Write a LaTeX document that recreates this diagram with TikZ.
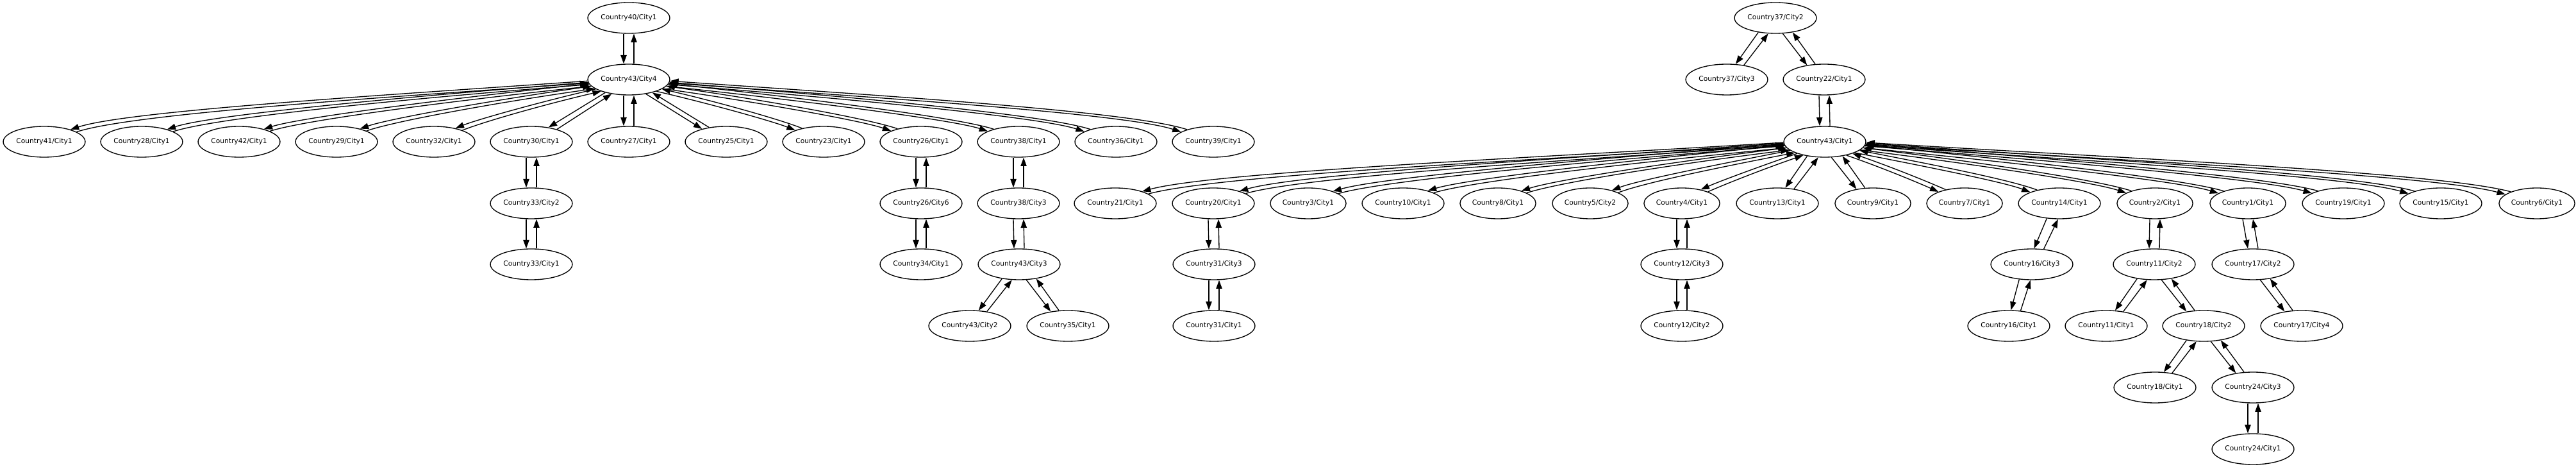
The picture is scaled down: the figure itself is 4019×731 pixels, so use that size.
\documentclass[tikz,border=0pt]{standalone}
\usepackage{fontspec}
\setmainfont{DejaVu Sans}
\usetikzlibrary{arrows.meta,shapes.geometric}
\tikzset{
  city/.style={ellipse, draw, line width=1pt, inner xsep=1.2pt, inner ysep=0pt,
    minimum height=36pt, font=\fontsize{8pt}{9.6pt}\selectfont},
  edge/.style={line width=1pt, -{Triangle[length=10pt,width=7pt]}},
}
% curved pair, left side: P C Pd Pu Cd Cu out in childlooseness
\newcommand\pairL[9]{%
  \draw[edge] (#1.#3) to[out=#7,in=#8,in looseness=#9] (#2.#5);
  \draw[edge] (#2.#6) to[out=#8,in=#7,out looseness=#9] (#1.#4);}
% curved pair, mirrored to the right side
\newcommand\pairR[9]{%
  \pgfmathtruncatemacro\qPd{mod(540-#4,360)}%
  \pgfmathtruncatemacro\qPu{mod(540-#3,360)}%
  \pgfmathtruncatemacro\qCd{mod(540-#6,360)}%
  \pgfmathtruncatemacro\qCu{mod(540-#5,360)}%
  \pgfmathsetmacro\qo{180-#7}%
  \pgfmathsetmacro\qi{180-#8}%
  \pairL{#1}{#2}{\qPd}{\qPu}{\qCd}{\qCu}{\qo}{\qi}{#9}}
% straight pair, left side
\newcommand\pairS[6]{%
  \draw[edge] (#1.#3) -- (#2.#5);
  \draw[edge] (#2.#6) -- (#1.#4);}
% straight pair, mirrored to the right side
\newcommand\pairSR[6]{%
  \pgfmathtruncatemacro\qPd{mod(540-#4,360)}%
  \pgfmathtruncatemacro\qPu{mod(540-#3,360)}%
  \pgfmathtruncatemacro\qCd{mod(540-#6,360)}%
  \pgfmathtruncatemacro\qCu{mod(540-#5,360)}%
  \pairS{#1}{#2}{\qPd}{\qPu}{\qCd}{\qCu}}
% vertical pair
\newcommand\pairV[2]{%
  \draw[edge] ([xshift=-6pt]#1.south) -- ([xshift=-6pt]#2.north);
  \draw[edge] ([xshift=6pt]#2.north) -- ([xshift=6pt]#1.south);}
\begin{document}
\begin{tikzpicture}[x=0.75pt,y=0.75pt]
\useasboundingbox (0,0) rectangle (4019,731);
% ---------- left tree ----------
\node[city] (a40)  at (981,703) {Country40/City1};
\node[city] (a434) at (981,607) {Country43/City4};
\node[city] (c41) at (69,510)  {Country41/City1};
\node[city] (c28) at (221,510) {Country28/City1};
\node[city] (c42) at (373,510) {Country42/City1};
\node[city] (c29) at (525,510) {Country29/City1};
\node[city] (c32) at (677,510) {Country32/City1};
\node[city] (c30) at (829,510) {Country30/City1};
\node[city] (c27) at (981,510) {Country27/City1};
\node[city] (c25) at (1133,510) {Country25/City1};
\node[city] (c23) at (1285,510) {Country23/City1};
\node[city] (c26) at (1437,510) {Country26/City1};
\node[city] (c38) at (1589,510) {Country38/City1};
\node[city] (c36) at (1741,510) {Country36/City1};
\node[city] (c39) at (1893,510) {Country39/City1};
\node[city] (c33b) at (829,414) {Country33/City2};
\node[city] (c33a) at (829,319) {Country33/City1};
\node[city] (c266) at (1437,414) {Country26/City6};
\node[city] (c34)  at (1437,319) {Country34/City1};
\node[city] (c383) at (1589,414) {Country38/City3};
\node[city] (c433) at (1590,319) {Country43/City3};
\node[city] (c432) at (1513,223) {Country43/City2};
\node[city] (c35)  at (1666,223) {Country35/City1};
% ---------- right tree ----------
\node[city] (c372) at (2770,703) {Country37/City2};
\node[city] (c373) at (2694,607) {Country37/City3};
\node[city] (c22)  at (2846,607) {Country22/City1};
\node[city] (c431) at (2847,510) {Country43/City1};
\node[city] (c21) at (1740,414) {Country21/City1};
\node[city] (c20) at (1893,414) {Country20/City1};
\node[city] (c3)  at (2041,414) {Country3/City1};
\node[city] (c10) at (2189,414) {Country10/City1};
\node[city] (c8)  at (2337,414) {Country8/City1};
\node[city] (c5)  at (2481,414) {Country5/City2};
\node[city] (c4)  at (2624,414) {Country4/City1};
\node[city] (c13) at (2773,414) {Country13/City1};
\node[city] (c9)  at (2922,414) {Country9/City1};
\node[city] (c7)  at (3065,414) {Country7/City1};
\node[city] (c14) at (3213,414) {Country14/City1};
\node[city] (c2)  at (3362,414) {Country2/City1};
\node[city] (c1)  at (3507,414) {Country1/City1};
\node[city] (c19) at (3656,414) {Country19/City1};
\node[city] (c15) at (3808,414) {Country15/City1};
\node[city] (c6)  at (3958,414) {Country6/City1};
\node[city] (c313) at (1894,319) {Country31/City3};
\node[city] (c311) at (1894,223) {Country31/City1};
\node[city] (c123) at (2624,319) {Country12/City3};
\node[city] (c122) at (2624,223) {Country12/City2};
\node[city] (c163) at (3170,319) {Country16/City3};
\node[city] (c161) at (3134,223) {Country16/City1};
\node[city] (c112) at (3361,319) {Country11/City2};
\node[city] (c111) at (3286,223) {Country11/City1};
\node[city] (c182) at (3438,223) {Country18/City2};
\node[city] (c181) at (3362,127) {Country18/City1};
\node[city] (c243) at (3515,127) {Country24/City3};
\node[city] (c241) at (3515,31)  {Country24/City1};
\node[city] (c172) at (3515,319) {Country17/City2};
\node[city] (c174) at (3591,223) {Country17/City4};
% ---------- left tree edges ----------
\pairV{a40}{a434}
\pairV{a434}{c27}
\pairS{a434}{c30}{209}{220}{40}{26}
\pairL{a434}{c32}{196}{203}{32}{22}{193}{22}{0.4}
\pairL{a434}{c29}{190}{195}{29}{20}{188}{19}{0.35}
\pairL{a434}{c42}{186}{190}{27}{19}{186}{18}{0.3}
\pairL{a434}{c28}{184}{187}{26}{18}{184.5}{18}{0.3}
\pairL{a434}{c41}{182}{185}{25}{17}{184}{18}{0.3}
\pairSR{a434}{c25}{209}{220}{40}{28}
\pairR{a434}{c23}{196}{203}{32}{22}{193}{22}{0.4}
\pairR{a434}{c26}{190}{195}{29}{20}{188}{19}{0.35}
\pairR{a434}{c38}{186}{190}{27}{19}{186}{18}{0.3}
\pairR{a434}{c36}{184}{187}{26}{18}{184.5}{18}{0.3}
\pairR{a434}{c39}{182}{185}{25}{17}{184}{18}{0.3}
\pairV{c30}{c33b}
\pairV{c33b}{c33a}
\pairV{c26}{c266}
\pairV{c266}{c34}
\pairV{c38}{c383}
\pairV{c383}{c433}
\pairS{c433}{c432}{220}{245}{60}{40}
\pairSR{c433}{c35}{220}{245}{60}{40}
% ---------- right tree edges ----------
\pairS{c372}{c373}{220}{245}{60}{40}
\pairSR{c372}{c22}{220}{245}{60}{40}
\pairV{c22}{c431}
\pairS{c431}{c13}{219}{247}{63}{41}
\pairL{c431}{c4}{203}{212}{36}{24}{199}{24}{0.5}
\pairL{c431}{c5}{194}{200}{31}{21}{191}{21}{0.4}
\pairL{c431}{c8}{189}{193}{28}{20}{187}{18}{0.35}
\pairL{c431}{c10}{185}{189}{27}{19}{185.5}{17}{0.3}
\pairL{c431}{c3}{183}{186}{26}{18}{184.5}{16}{0.3}
\pairL{c431}{c20}{182}{185}{25}{17}{184}{16}{0.3}
\pairL{c431}{c21}{181}{184}{24}{16}{183.5}{15}{0.3}
\pairSR{c431}{c9}{219}{247}{63}{41}
\pairR{c431}{c7}{203}{212}{36}{24}{199}{24}{0.5}
\pairR{c431}{c14}{194}{200}{31}{21}{191}{21}{0.4}
\pairR{c431}{c2}{189}{193}{28}{20}{187}{18}{0.35}
\pairR{c431}{c1}{185}{189}{27}{19}{185.5}{17}{0.3}
\pairR{c431}{c19}{183}{186}{26}{18}{184.5}{16}{0.3}
\pairR{c431}{c15}{182}{185}{25}{17}{184}{16}{0.3}
\pairR{c431}{c6}{181}{184}{24}{16}{183.5}{15}{0.3}
\pairV{c20}{c313}
\pairV{c313}{c311}
\pairV{c4}{c123}
\pairV{c123}{c122}
\pairS{c14}{c163}{230}{265}{82}{52}
\pairS{c163}{c161}{230}{265}{82}{52}
\pairV{c2}{c112}
\pairS{c112}{c111}{220}{245}{60}{40}
\pairSR{c112}{c182}{220}{245}{60}{40}
\pairS{c182}{c181}{220}{245}{60}{40}
\pairSR{c182}{c243}{220}{245}{60}{40}
\pairV{c243}{c241}
\pairV{c1}{c172}
\pairSR{c172}{c174}{220}{245}{60}{40}
\end{tikzpicture}
\end{document}
